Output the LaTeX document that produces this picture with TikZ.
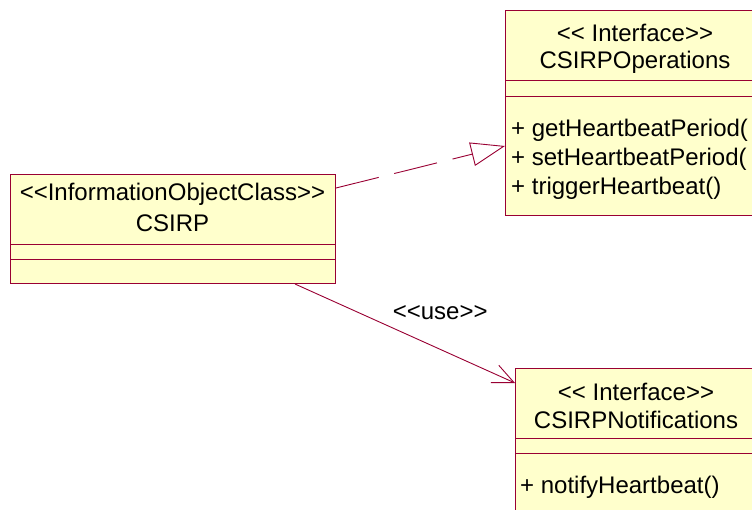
\documentclass[tikz,border=0pt]{standalone}
\usepackage{fontspec}
\setmainfont{Liberation Sans}[Ligatures=TeXOff]
\usetikzlibrary{arrows.meta,calc}
\definecolor{umlred}{RGB}{153,0,51}
\definecolor{umlfill}{RGB}{255,255,204}

\begin{document}
\begin{tikzpicture}[x=1pt,y=-1pt,
    classbox/.style={draw=umlred,fill=umlfill,line width=1pt,inner sep=0pt,anchor=north west},
    sep/.style={draw=umlred,line width=0.8pt},
    txt/.style={font=\fontsize{24}{28}\selectfont,inner sep=0pt},
    op/.style={txt,anchor=west},
    link/.style={draw=umlred,line width=0.9pt}]
\useasboundingbox (0,0) rectangle (752,510);
\clip (0,0) rectangle (752,510);
% class CSIRP
\node[classbox,minimum width=325,minimum height=109] (csirp) at (10,174) {};
\draw[sep] (10,244) -- (335,244) (10,259) -- (335,259);
\node[txt] (csirpst) at (172.5,194) {<<InformationObjectClass>>};
\node[txt] (csirpnm) at (172.5,223) {CSIRP};
% interface CSIRPOperations
\node[classbox,minimum width=260,minimum height=205] (ops) at (505,10) {};
\draw[sep] (505,80) -- (765,80) (505,96) -- (765,96);
\node[txt] (opsst) at (635,33) {<< Interface>>};
\node[txt] (opsnm) at (635,62) {CSIRPOperations};
\node[op] (opget) at (511,130) {+ getHeartbeatPeriod(};
\node[op] (opset) at (511,159) {+ setHeartbeatPeriod(};
\node[op] (optrg) at (511,188) {+ triggerHeartbeat()};
% interface CSIRPNotifications
\node[classbox,minimum width=242,minimum height=160] (ntf) at (515,368) {};
\draw[sep] (515,438) -- (757,438) (515,453) -- (757,453);
\node[txt] (ntfst) at (636,392) {<< Interface>>};
\node[txt] (ntfnm) at (636,420) {CSIRPNotifications};
\node[op] (ntfhb) at (520,487) {+ notifyHeartbeat()};
% realization
\draw[link,dash pattern=on 44pt off 16pt,-{Triangle[open,length=34pt,width=24pt,line width=0.9pt]}]
    ($(csirp.north east)+(0,14)$) -- ($(ops.north west)+(0,136)$);
% dependency
\draw[link,-{Straight Barb[length=21pt,width=19pt,line width=0.9pt]}]
    ($(csirp.south west)+(285,0)$) -- ($(ntf.north west)+(0,15)$)
    node[txt,pos=0.66,above=29pt] (uselbl) {<<use>>};
\end{tikzpicture}
\end{document}
